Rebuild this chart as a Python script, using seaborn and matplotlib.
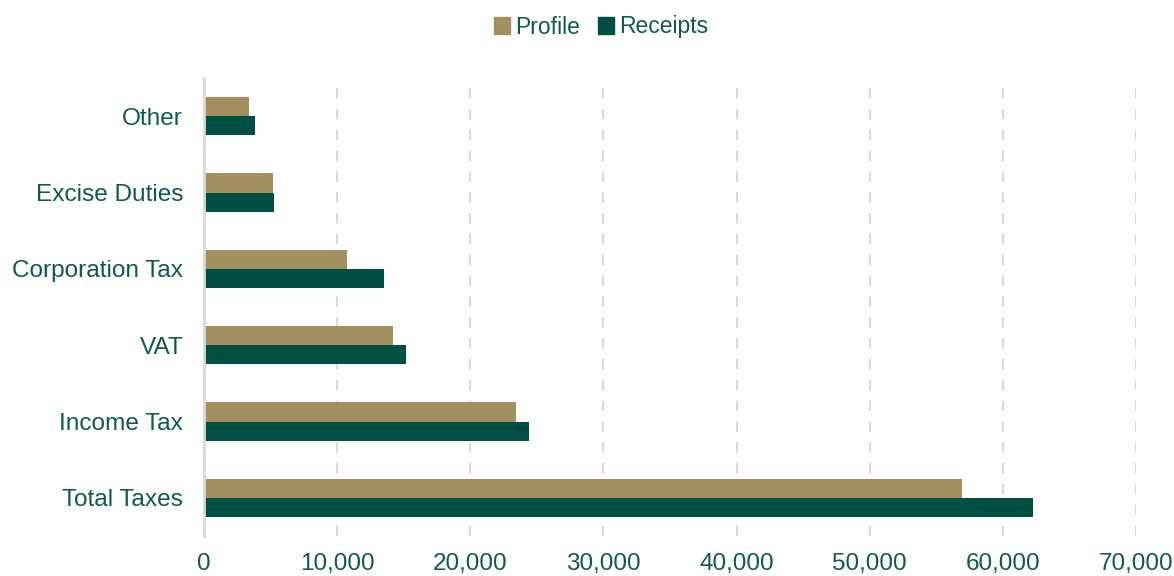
import pandas as pd
import matplotlib
matplotlib.use("Agg")
import matplotlib.pyplot as plt
import seaborn as sns

# data
categories = ["Other", "Excise Duties", "Corporation Tax", "VAT", "Income Tax", "Total Taxes"]
profile = [3350, 5200, 10750, 14160, 23410, 56900]
receipts = [3850, 5280, 13530, 15160, 24430, 62240]
series = ["Profile", "Receipts"]
xticks = [0, 10000, 20000, 30000, 40000, 50000, 60000, 70000]

df = pd.DataFrame({
    "category": categories * 2,
    "series": ["Profile"] * len(categories) + ["Receipts"] * len(categories),
    "value": profile + receipts,
})

sns.set_theme(style="white")
plt.rcParams["font.family"] = ["Liberation Sans", "DejaVu Sans"]

text_col = "#0e5a4f"
colors = {"Profile": "#a3905e", "Receipts": "#004f43"}

fig = plt.figure(figsize=(11.74, 5.76), dpi=100)
ax = fig.add_axes([204 / 1174, 1 - 536 / 576, (1136 - 204) / 1174, (536 - 78) / 576])

sns.barplot(data=df, y="category", x="value", hue="series", hue_order=series,
            order=categories, palette=colors, width=0.5, orient="h",
            saturation=1, linewidth=0, ax=ax, legend=False)

ax.set_xlim(0, 70000)
ax.set_ylim(len(categories) - 0.5, -0.5)
ax.set_xticks(xticks)
ax.set_xticklabels([f"{v:,}" for v in xticks])
ax.set_xlabel("")
ax.set_ylabel("")

for x in xticks[1:]:
    ax.axvline(x, color="#d9d9d9", linestyle=(0, (5, 5)), linewidth=1.5, zorder=0)

for s in ["top", "right", "bottom"]:
    ax.spines[s].set_visible(False)
ax.spines["left"].set_color("#d9d9d9")
ax.spines["left"].set_linewidth(2)

ax.tick_params(axis="x", length=0, pad=12, labelsize=17.5, labelcolor=text_col)
ax.tick_params(axis="y", length=0, pad=15, labelsize=17.6, labelcolor=text_col)

handles = [plt.Rectangle((0, 0), 1, 1, color=colors[s]) for s in series]
fig.legend(handles, series, loc="center", bbox_to_anchor=(601 / 1174, 1 - 27 / 576),
           ncol=2, frameon=False, fontsize=16.5, labelcolor=text_col,
           handlelength=0.7, handleheight=0.7, handletextpad=0.2, columnspacing=0.8)

fig.savefig("out.png", dpi=100)
